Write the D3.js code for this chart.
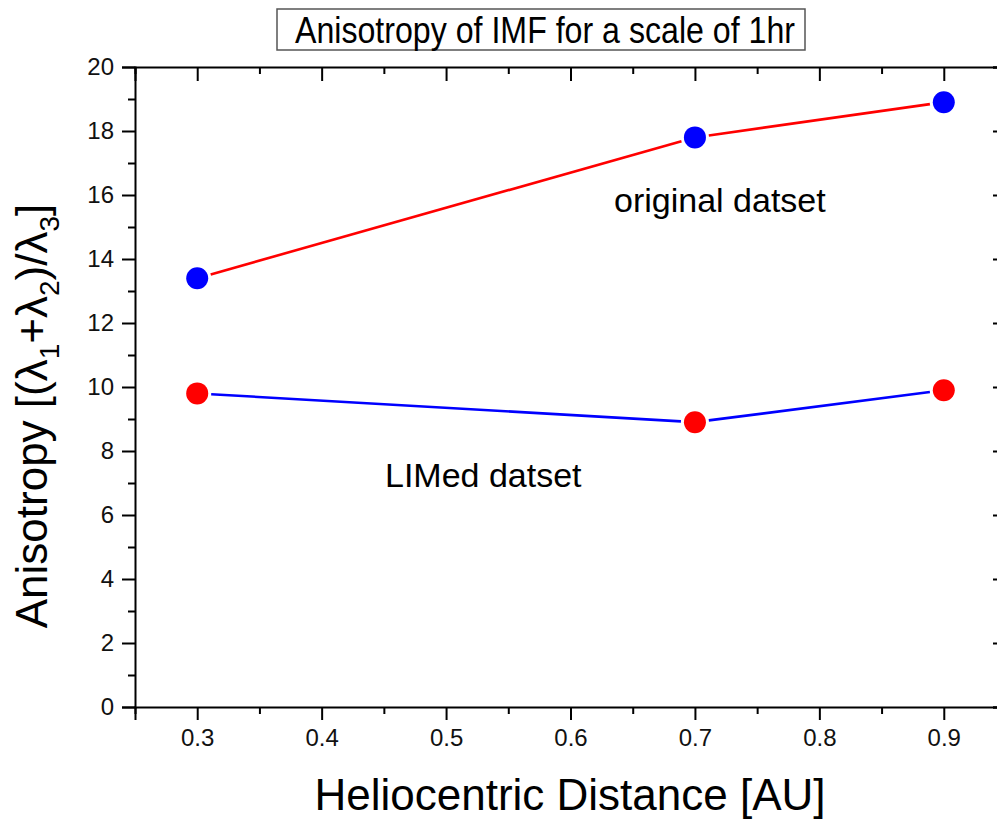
<!DOCTYPE html>
<html>
<head>
<meta charset="utf-8">
<script src="https://cdn.jsdelivr.net/npm/d3@7"></script>
<style>
  body { margin: 0; background: #fff; }
  svg { display: block; font-family: "Liberation Sans", Arial, sans-serif; }
  .axis path, .axis line { stroke: #000; stroke-width: 2; }
</style>
</head>
<body>
<div class="chart"></div>
<script>
// data
var distance = [0.3, 0.7, 0.9];
var originalValues = [13.4, 17.8, 18.9];
var limedValues = [9.8, 8.9, 9.9];
var xTicks = [0.3, 0.4, 0.5, 0.6, 0.7, 0.8, 0.9];
var xMinorTicks = [0.25, 0.35, 0.45, 0.55, 0.65, 0.75, 0.85, 0.95];
var yTicks = [0, 2, 4, 6, 8, 10, 12, 14, 16, 18, 20];
var yMinorTicks = [1, 3, 5, 7, 9, 11, 13, 15, 17, 19];

var svgWidth = 997, svgHeight = 821;
var margin = { top: 67, left: 135 };
// right edge of the frame falls just outside the picture
var width = 871, height = 640;

var svg = d3.select(".chart").append("svg")
  .attr("width", svgWidth)
  .attr("height", svgHeight);

var chartGroup = svg.append("g")
  .attr("transform", `translate(${margin.left}, ${margin.top})`);

var xScale = d3.scaleLinear().domain([0.25, 0.95]).range([0, width]);
var yScale = d3.scaleLinear().domain([0, 20]).range([height, 0]);

function labelStyle(g) {
  g.attr("font-family", "'Liberation Sans', Arial, sans-serif")
    .attr("font-size", 24);
  g.selectAll("text").attr("fill", "#111");
}

// bottom axis
chartGroup.append("g").attr("class", "axis")
  .attr("transform", `translate(0, ${height})`)
  .call(d3.axisBottom(xScale).tickValues(xTicks).tickSize(13).tickPadding(9)
    .tickFormat(d3.format(".1f")))
  .call(labelStyle);
chartGroup.append("g").attr("class", "axis")
  .attr("transform", `translate(0, ${height})`)
  .call(d3.axisBottom(xScale).tickValues(xMinorTicks).tickSize(7).tickFormat(""))
  .call(g => g.select("path").remove());

// left axis
chartGroup.append("g").attr("class", "axis")
  .call(d3.axisLeft(yScale).tickValues(yTicks).tickSize(13).tickPadding(8))
  .call(labelStyle);
chartGroup.append("g").attr("class", "axis")
  .call(d3.axisLeft(yScale).tickValues(yMinorTicks).tickSize(7).tickFormat(""))
  .call(g => g.select("path").remove());

// top axis, ticks inward
chartGroup.append("g").attr("class", "axis")
  .call(d3.axisBottom(xScale).tickValues(xTicks).tickSize(14).tickFormat(""));
chartGroup.append("g").attr("class", "axis")
  .call(d3.axisBottom(xScale).tickValues(xMinorTicks).tickSize(7).tickFormat(""))
  .call(g => g.select("path").remove());

// right axis, ticks inward
chartGroup.append("g").attr("class", "axis")
  .attr("transform", `translate(${width}, 0)`)
  .call(d3.axisLeft(yScale).tickValues(yTicks).tickSize(13).tickFormat(""));
chartGroup.append("g").attr("class", "axis")
  .attr("transform", `translate(${width}, 0)`)
  .call(d3.axisLeft(yScale).tickValues(yMinorTicks).tickSize(7).tickFormat(""))
  .call(g => g.select("path").remove());

// line segments stop short of the markers
var gap = 14;
function drawSeries(values, lineColor, markerColor) {
  var pts = distance.map((d, i) => [xScale(d), yScale(values[i])]);
  var segs = d3.pairs(pts).map(function(p) {
    var dx = p[1][0] - p[0][0], dy = p[1][1] - p[0][1];
    var len = Math.sqrt(dx * dx + dy * dy);
    var ux = dx / len, uy = dy / len;
    return [[p[0][0] + ux * gap, p[0][1] + uy * gap], [p[1][0] - ux * gap, p[1][1] - uy * gap]];
  });
  chartGroup.selectAll(null)
    .data(segs)
    .enter()
    .append("path")
    .attr("d", d => d3.line()(d))
    .attr("stroke", lineColor)
    .attr("stroke-width", 2.6)
    .attr("fill", "none");
  chartGroup.selectAll(null)
    .data(pts)
    .enter()
    .append("circle")
    .attr("cx", d => d[0])
    .attr("cy", d => d[1])
    .attr("r", 11)
    .attr("fill", markerColor);
}
drawSeries(originalValues, "#ff0000", "#0000ff");
drawSeries(limedValues, "#0000ff", "#ff0000");

// annotations
svg.append("text")
  .attr("x", 614).attr("y", 212)
  .attr("font-size", "34px")
  .text("original datset");
svg.append("text")
  .attr("x", 385).attr("y", 487)
  .attr("font-size", "34px")
  .text("LIMed datset");

// title box
svg.append("rect")
  .attr("x", 277).attr("y", 9)
  .attr("width", 528).attr("height", 41)
  .attr("fill", "#fff")
  .attr("stroke", "#555")
  .attr("stroke-width", 1.5);
svg.append("text")
  .attr("x", 295).attr("y", 43)
  .attr("font-size", "36px")
  .attr("font-family", "'Liberation Sans Narrow', 'Arial Narrow', 'Liberation Sans', sans-serif")
  .attr("textLength", 500)
  .attr("lengthAdjust", "spacingAndGlyphs")
  .text("Anisotropy of IMF for a scale of 1hr");

// x-axis title
svg.append("text")
  .attr("x", 570).attr("y", 810)
  .attr("text-anchor", "middle")
  .attr("font-size", "44px")
  .text("Heliocentric Distance [AU]");

// y-axis title with subscripts
var yTitle = svg.append("text")
  .attr("transform", "translate(47, 416) rotate(-90)")
  .attr("text-anchor", "middle")
  .attr("font-size", "44px");
yTitle.append("tspan").text("Anisotropy [(\u03bb");
yTitle.append("tspan").attr("font-size", "28px").attr("dy", 12).text("1");
yTitle.append("tspan").attr("dy", -12).text("+\u03bb");
yTitle.append("tspan").attr("font-size", "28px").attr("dy", 12).text("2");
yTitle.append("tspan").attr("dy", -12).text(")/\u03bb");
yTitle.append("tspan").attr("font-size", "28px").attr("dy", 12).text("3");
yTitle.append("tspan").attr("dy", -12).text("]");
</script>
</body>
</html>
